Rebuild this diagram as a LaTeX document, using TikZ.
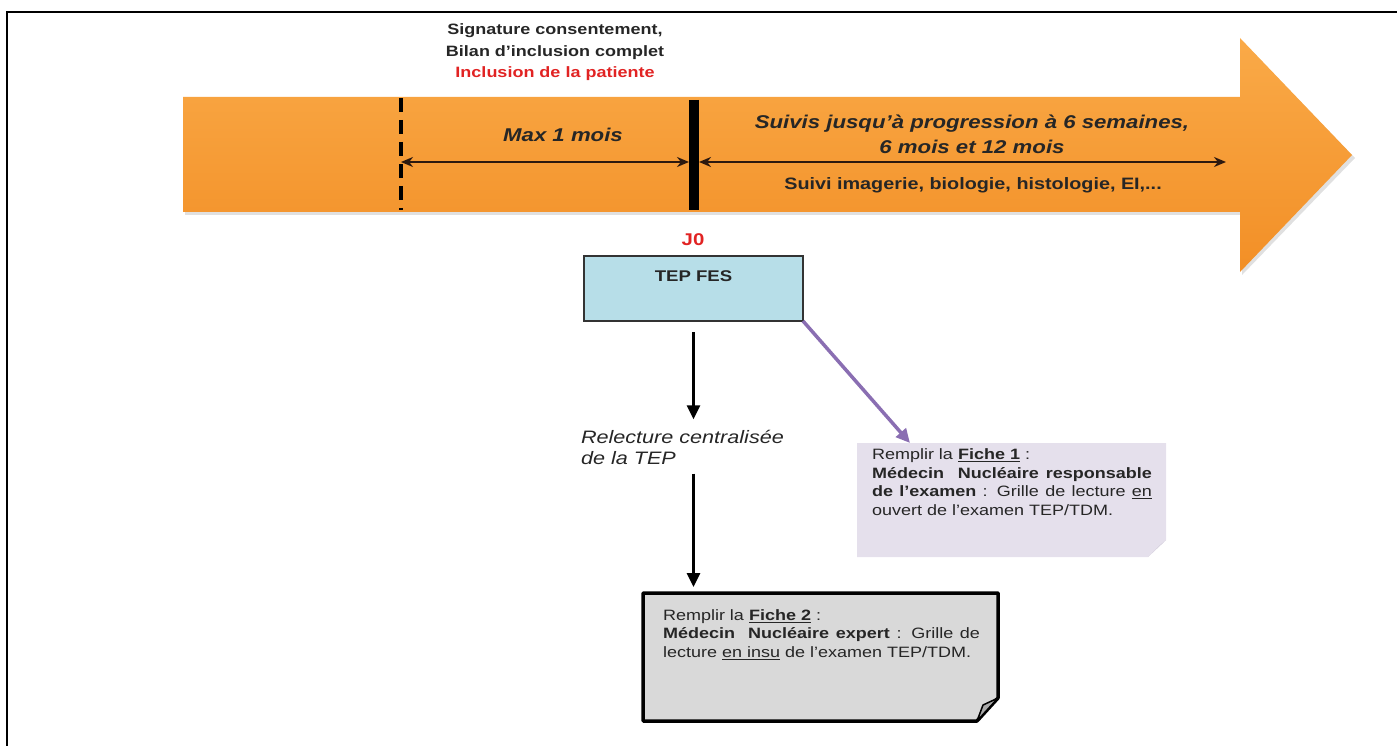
\documentclass[tikz,border=0pt]{standalone}
\usepackage{fontspec}
\setmainfont{Liberation Sans}[FakeStretch=1.2]
\usetikzlibrary{arrows.meta,positioning}
\definecolor{barorange}{RGB}{242,143,38}
\definecolor{barorangelight}{RGB}{250,170,72}
\definecolor{incred}{RGB}{225,35,35}
\definecolor{tepblue}{RGB}{183,222,232}
\definecolor{fichelilac}{RGB}{229,224,236}
\definecolor{lilacfold}{RGB}{205,200,214}
\definecolor{fichegrey}{RGB}{217,217,217}
\definecolor{greyfold}{RGB}{170,170,170}
\definecolor{arrowpurple}{RGB}{138,110,178}
\definecolor{timeline}{RGB}{45,25,15}

\begin{document}
\begin{tikzpicture}[
  x=1pt, y=-1pt,
  every node/.style = {inner sep=0pt, outer sep=0pt, text=black!85},
  toptext/.style = {font=\fontsize{15}{21.5}\selectfont\bfseries, align=center},
  bartext/.style = {font=\fontsize{18.5}{25}\selectfont\bfseries\itshape, align=center},
  tepbox/.style = {draw=black!80, line width=1.4pt, fill=tepblue, minimum width=219pt, minimum height=65pt},
  fichetext/.style = {font=\fontsize{15}{18.5}\selectfont, align=justify},
  flow/.style = {-{Triangle[length=14pt,width=13pt]}, line width=3pt},
  span/.style = {{Stealth[length=12pt,width=10pt]}-{Stealth[length=12pt,width=10pt]}, line width=2.8pt, draw=timeline}
]
  \useasboundingbox (0,0) rectangle (1397,746);
  \draw[line width=2.5pt] (7,746) -- (7,12) -- (1397,12);

  \fill[black, opacity=0.12] (185,100) -- (1242,100) -- (1242,41) -- (1355,158) -- (1242,275) -- (1242,215) -- (185,215) -- cycle;
  \shade[top color=barorangelight, bottom color=barorange] (183,97) -- (1240,97) -- (1240,38) -- (1352,155) -- (1240,272) -- (1240,212) -- (183,212) -- cycle;

  \node[toptext] (consent) at (555,52.5) {Signature consentement,\\Bilan d’inclusion complet\\\textcolor{incred}{Inclusion de la patiente}};

  \coordinate (incl) at (401,162);
  \coordinate (jmark) at (694,162);
  \coordinate (suiviend) at (1226,162);
  \draw[line width=4pt, dash pattern=on 14pt off 8pt] (401,98) -- (401,210);
  \draw[line width=10pt] (694,100) -- (694,210);
  \draw[span] (incl) -- ([xshift=-5pt]jmark);
  \draw[span] ([xshift=5pt]jmark) -- (suiviend);

  \node[bartext] (maxmois) at (563,135) {Max 1 mois};
  \node[bartext] (suivis) at (972,134.5) {Suivis jusqu'à progression à 6 semaines,\\6 mois et 12 mois};
  \node[font=\fontsize{16.5}{20}\selectfont\bfseries] (suiviimg) at (973,185) {Suivi imagerie, biologie, histologie, EI,...};

  \node[font=\fontsize{17}{20}\selectfont\bfseries, text=incred] (jzero) at (693,240) {J0};
  \node[tepbox] (tep) at (693.5,288.5) {};
  \node[font=\fontsize{15.5}{18}\selectfont\bfseries] (tepfes) at ([yshift=-20pt]tep.north) {TEP FES};

  \node[font=\fontsize{18}{21}\selectfont\itshape, align=left, anchor=west] (relecture) at (581,447.5) {Relecture centralisée\\de la TEP};

  \node[minimum width=309pt, minimum height=114pt] (ficheone) at (1011.5,500) {};
  \fill[fichelilac] (ficheone.north west) -- (ficheone.north east) -- ([yshift=17pt]ficheone.south east) -- ([xshift=-18pt]ficheone.south east) -- (ficheone.south west) -- cycle;
  \fill[lilacfold] ([xshift=-18pt]ficheone.south east) -- ([yshift=17pt]ficheone.south east) -- ([xshift=-7pt,yshift=11pt]ficheone.south east) -- cycle;
  \node[fichetext, text width=280pt, below right=6pt and 15pt of ficheone.north west] (ficheonetext) {Remplir la \underline{\textbf{Fiche 1}} :\\\textbf{Médecin\ \ Nucléaire responsable}\linebreak\textbf{de l’examen} : Grille de lecture \underline{en}\linebreak ouvert de l'examen TEP/TDM.};

  \node[minimum width=355pt, minimum height=128pt] (fichetwo) at (820.5,657) {};
  \draw[line width=3.5pt, line join=round, fill=fichegrey] (fichetwo.north west) -- (fichetwo.north east) -- ([yshift=23pt]fichetwo.south east) -- ([xshift=-21pt]fichetwo.south east) -- (fichetwo.south west) -- cycle;
  \draw[line width=1.5pt, line join=round, fill=greyfold] ([xshift=-21pt]fichetwo.south east) -- ([xshift=-15pt,yshift=16pt]fichetwo.south east) -- ([yshift=23pt]fichetwo.south east) -- cycle;
  \node[fichetext, text width=317pt, below right=16.5pt and 20pt of fichetwo.north west] (fichetwotext) {Remplir la \underline{\textbf{Fiche 2}} :\\\textbf{Médecin\ \ Nucléaire expert} : Grille de\linebreak lecture \underline{en insu} de l'examen TEP/TDM.};

  \draw[flow, shorten <=11pt, shorten >=11pt] (tep.south) -- (tep.south |- relecture.north);
  \draw[flow, shorten <=9pt, shorten >=6pt] (tep.south |- relecture.south) -- (tep.south |- fichetwo.north);
  \draw[flow, draw=arrowpurple, line width=3.5pt] (tep.south east) -- ([xshift=53pt]ficheone.north west);
\end{tikzpicture}
\end{document}
